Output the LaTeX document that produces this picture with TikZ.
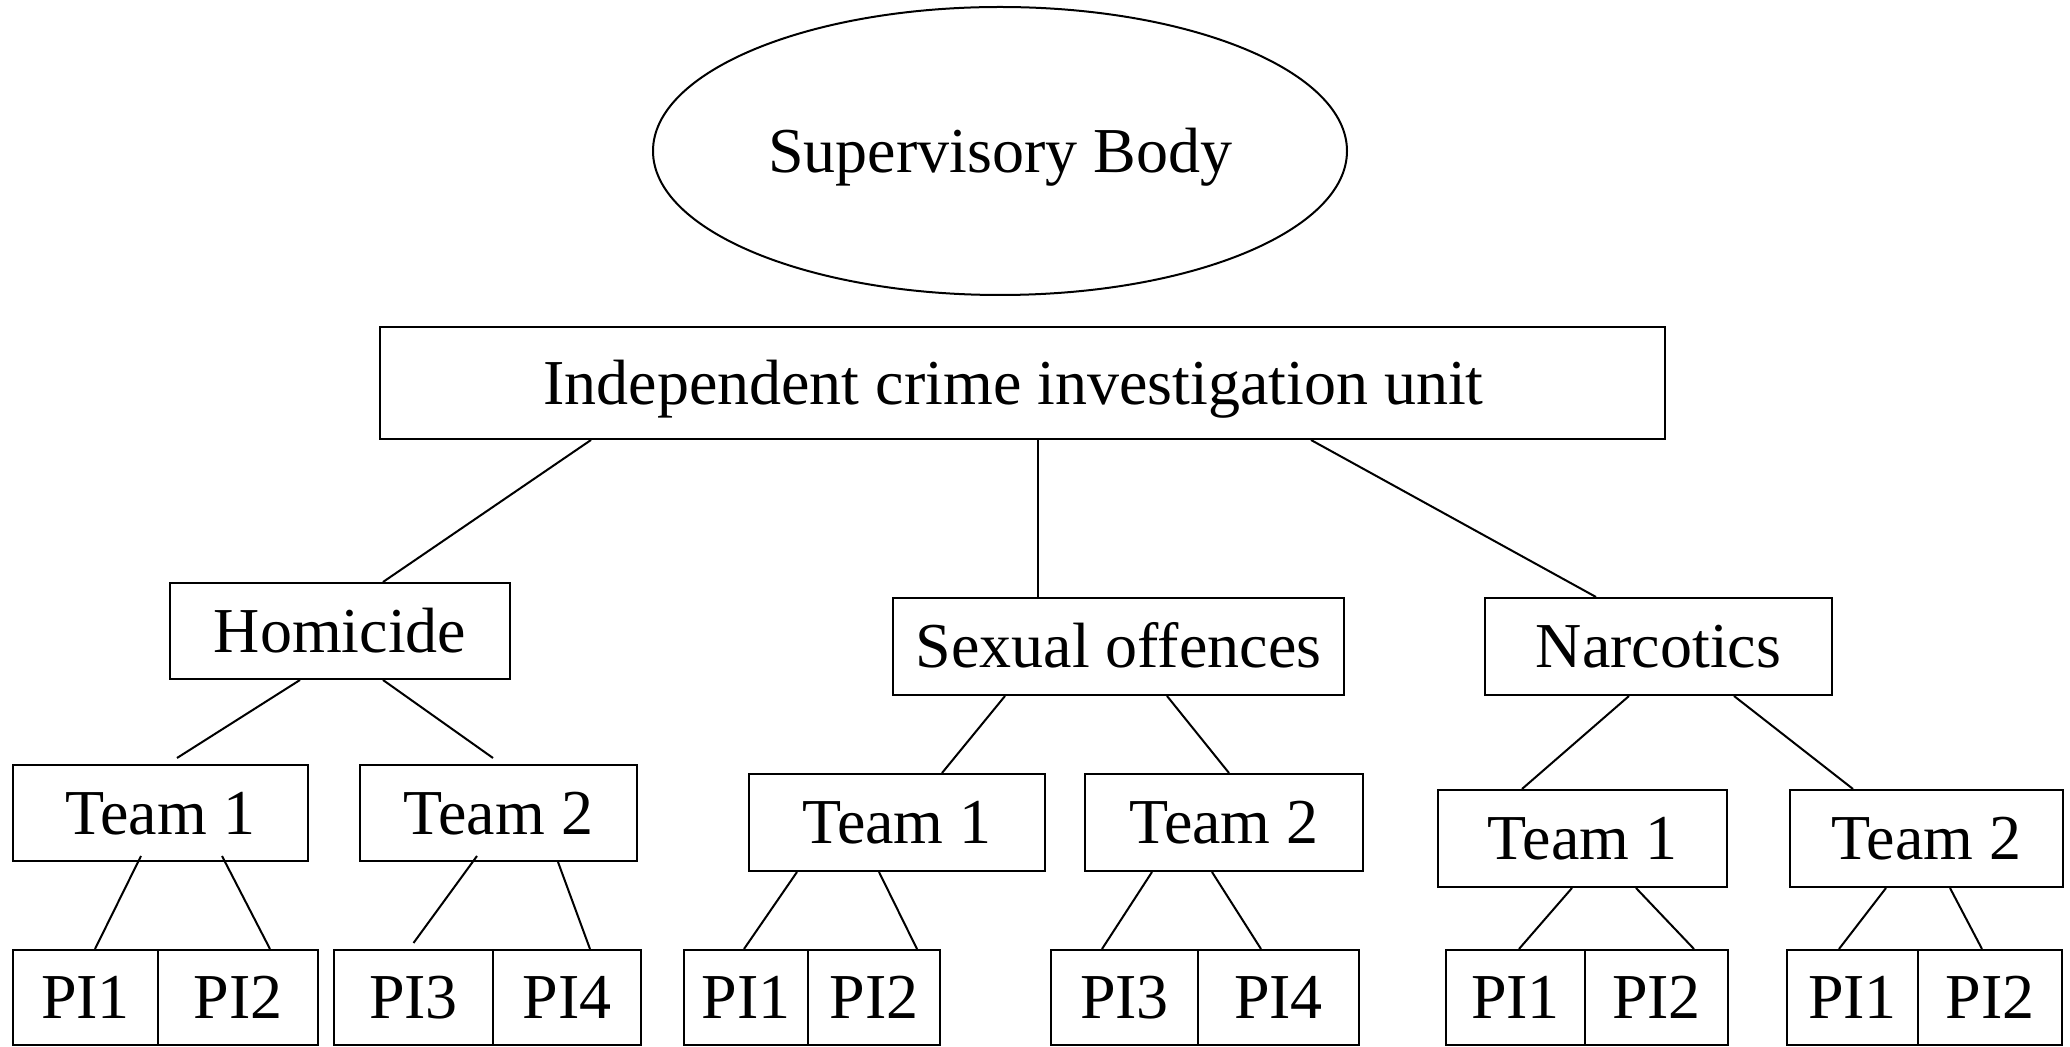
\documentclass[tikz,border=0pt]{standalone}
\usepackage{fontspec}
\setmainfont{Liberation Serif}
\usetikzlibrary{shapes.geometric,calc}

\begin{document}
\begin{tikzpicture}[
  x=0.25pt, y=-0.25pt,
  line width=0.5pt,
  every node/.style={font=\fontsize{16}{19}\selectfont, inner sep=0pt,
                     text height=10.6pt, text depth=0pt},
  unitbox/.style={draw, rectangle, minimum width=#1*0.25pt, minimum height=97*0.25pt},
  pibox/.style={draw, rectangle, minimum width=#1*0.25pt, minimum height=95*0.25pt},
  link/.style={draw, line width=0.5pt}
]
\useasboundingbox (0,0) rectangle (2070,1047);

% top of the hierarchy
\node[draw, ellipse, minimum width=694*0.25pt, minimum height=288*0.25pt] (sup) at (1000,151) {Supervisory Body};
\node[draw, rectangle, minimum width=1285*0.25pt, minimum height=112*0.25pt] (unit) at (1022.5,383) {Independent crime investigation unit\kern4.5pt};

% divisions
\node[unitbox=340, minimum height=96*0.25pt] (hom) at (340,631) {Homicide};
\node[unitbox=451] (sex) at (1118.5,646.5) {Sexual offences};
\node[unitbox=347] (nar) at (1658.5,646.5) {Narcotics};

% teams
\node[unitbox=295, minimum height=96*0.25pt] (ht1) at (160.5,813) {Team 1};
\node[unitbox=277, minimum height=96*0.25pt] (ht2) at (498.5,813) {Team 2};
\node[unitbox=296] (st1) at (897,822.5) {Team 1};
\node[unitbox=278] (st2) at (1224,822.5) {Team 2};
\node[unitbox=289] (nt1) at (1582.5,838.5) {Team 1};
\node[unitbox=273] (nt2) at (1926.5,838.5) {Team 2};

% investigators
\node[pibox=145] (hp1) at (85.5,997.5) {PI1};
\node[pibox=160] (hp2) at (238,997.5) {PI2};
\node[pibox=159] (hp3) at (413.5,997.5) {PI3};
\node[pibox=148] (hp4) at (567,997.5) {PI4};
\node[pibox=124] (sp1) at (746,997.5) {PI1};
\node[pibox=132] (sp2) at (874,997.5) {PI2};
\node[pibox=147] (sp3) at (1124.5,997.5) {PI3};
\node[pibox=161] (sp4) at (1278.5,997.5) {PI4};
\node[pibox=139] (np1) at (1515.5,997.5) {PI1};
\node[pibox=143] (np2) at (1656.5,997.5) {PI2};
\node[pibox=131] (np3) at (1852.5,997.5) {PI1};
\node[pibox=144] (np4) at (1990,997.5) {PI2};

% unit to divisions
\draw[link] ($(unit.south)+(-431.5,0)$) -- ($(hom.north)+(43,0)$);
\draw[link] ($(unit.south)+(15.5,0)$) -- ($(sex.north)+(-80.5,0)$);
\draw[link] ($(unit.south)+(288.5,0)$) -- ($(nar.north)+(-62.5,0)$);

% divisions to teams
\draw[link] ($(hom.south)+(-40,0)$) -- ($(ht1.north)+(16.5,-6)$);
\draw[link] ($(hom.south)+(43,0)$) -- ($(ht2.north)+(-5.5,-6)$);
\draw[link] ($(sex.south)+(-113.5,0)$) -- ($(st1.north)+(45,0)$);
\draw[link] ($(sex.south)+(48.5,0)$) -- ($(st2.north)+(5,0)$);
\draw[link] ($(nar.south)+(-29.5,0)$) -- ($(nt1.north)+(-60.5,0)$);
\draw[link] ($(nar.south)+(75.5,0)$) -- ($(nt2.north)+(-73.5,0)$);

% teams to investigators
\draw[link] ($(ht1.south)+(-19.5,-6)$) -- ($(hp1.north)+(9.5,0)$);
\draw[link] ($(ht1.south)+(61.5,-6)$) -- ($(hp2.north)+(32,0)$);
\draw[link] ($(ht2.south)+(-21.5,-6)$) -- ($(hp3.north)+(0,-6)$);
\draw[link] ($(ht2.south)+(59.5,0)$) -- ($(hp4.north)+(23,0)$);
\draw[link] ($(st1.south)+(-100,0)$) -- ($(sp1.north)+(-2,0)$);
\draw[link] ($(st1.south)+(-18,0)$) -- ($(sp2.north)+(43,0)$);
\draw[link] ($(st2.south)+(-72,0)$) -- ($(sp3.north)+(-22.5,0)$);
\draw[link] ($(st2.south)+(-12,0)$) -- ($(sp4.north)+(-17.5,0)$);
\draw[link] ($(nt1.south)+(-10.5,0)$) -- ($(np1.north)+(3.5,0)$);
\draw[link] ($(nt1.south)+(53.5,0)$) -- ($(np2.north)+(37.5,0)$);
\draw[link] ($(nt2.south)+(-40.5,0)$) -- ($(np3.north)+(-13.5,0)$);
\draw[link] ($(nt2.south)+(23.5,0)$) -- ($(np4.north)+(-8,0)$);
\end{tikzpicture}
\end{document}
